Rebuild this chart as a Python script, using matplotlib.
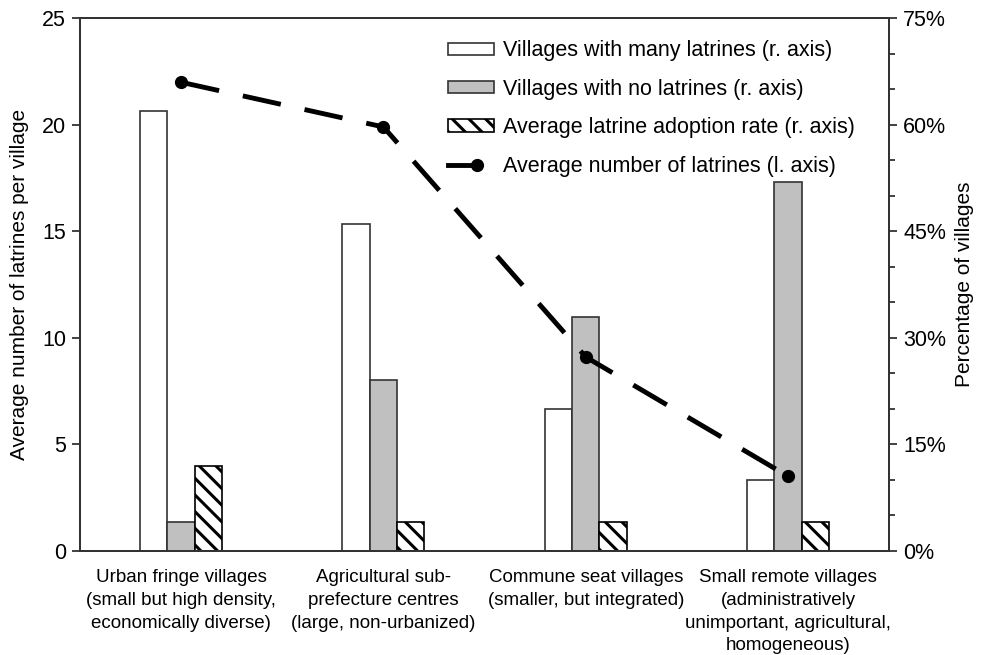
import matplotlib
matplotlib.use("Agg")
import matplotlib.pyplot as plt
import numpy as np
from matplotlib.ticker import MultipleLocator, PercentFormatter
from matplotlib.legend_handler import HandlerLine2D

plt.rcParams['font.family'] = ['Liberation Sans', 'DejaVu Sans']
plt.rcParams['hatch.linewidth'] = 2.2

categories = ['Urban fringe villages\n(small but high density,\neconomically diverse)',
              'Agricultural sub-\nprefecture centres\n(large, non-urbanized)',
              'Commune seat villages\n(smaller, but integrated)',
              'Small remote villages\n(administratively\nunimportant, agricultural,\nhomogeneous)']

# percent of villages (right axis)
many_latrines = [62, 46, 20, 10]
no_latrines = [4, 24, 33, 52]
adoption_rate = [12, 4, 4, 4]
# average number of latrines (left axis)
avg_latrines = [22.0, 19.9, 9.1, 3.5]

x = np.arange(len(categories))
w = 0.135


# legend line: solid, with the dot at its right end
class EndDotHandler(HandlerLine2D):
    def get_xdata(self, legend, xdescent, ydescent, width, height, fontsize):
        xd = np.array([-xdescent, -xdescent + width * 0.62])
        return xd, xd[-1:]

    def create_artists(self, *args, **kwargs):
        arts = super().create_artists(*args, **kwargs)
        for a in arts:
            a.set_markevery([-1])
            a.set_linestyle('-')
        return arts


fig = plt.figure(figsize=(9.81, 6.55), dpi=100)
ax1 = fig.add_axes([0.0815, 0.159, 0.825, 0.813])
ax2 = ax1.twinx()

b1 = ax2.bar(x - w, many_latrines, w, color='white', edgecolor='#333333', linewidth=1.2,
             label='Villages with many latrines (r. axis)')
b2 = ax2.bar(x, no_latrines, w, color='#c0c0c0', edgecolor='#333333', linewidth=1.2,
             label='Villages with no latrines (r. axis)')
b3 = ax2.bar(x + w, adoption_rate, w, color='white', edgecolor='black', linewidth=1.2,
             hatch='\\\\', label='Average latrine adoption rate (r. axis)')

ln, = ax1.plot(x, avg_latrines, color='black', linewidth=3.5, dashes=(8, 5),
               marker='o', markersize=8.5, label='Average number of latrines (l. axis)')

ax1.set_zorder(ax2.get_zorder() + 1)
ax1.patch.set_visible(False)

ax1.set_xlim(-0.5, 3.5)
ax1.set_ylim(0, 25)
ax2.set_ylim(0, 75)
ax1.yaxis.set_major_locator(MultipleLocator(5))
ax2.yaxis.set_major_locator(MultipleLocator(15))
ax2.yaxis.set_minor_locator(MultipleLocator(5))
ax2.yaxis.set_major_formatter(PercentFormatter(decimals=0))

ax1.set_xticks(x)
ax1.set_xticklabels(categories, fontsize=13.5, linespacing=1.45)
ax1.tick_params(axis='x', length=0, pad=13)
ax1.tick_params(axis='y', labelsize=15.5, length=6, width=1.3, color='#333333', pad=4)
ax2.tick_params(axis='y', which='major', labelsize=15.5, length=6, width=1.3, color='#333333', pad=4)
ax2.tick_params(axis='y', which='minor', length=4, width=1.3, color='#333333')

for a in (ax1, ax2):
    for s in a.spines.values():
        s.set_color('#333333')
        s.set_linewidth(1.4)

ax1.set_ylabel('Average number of latrines per village', fontsize=15, labelpad=9)
ax2.set_ylabel('Percentage of villages', fontsize=15, labelpad=6)

handles = [b1, b2, b3, ln]
fig.legend(handles, [h.get_label() for h in handles], loc='upper left',
           bbox_to_anchor=(0.437, 0.968), frameon=False, fontsize=15.5,
           handlelength=2.15, handleheight=0.5, handletextpad=0.4, labelspacing=0.81,
           handler_map={ln: EndDotHandler()})

plt.savefig('out.png', dpi=100)
